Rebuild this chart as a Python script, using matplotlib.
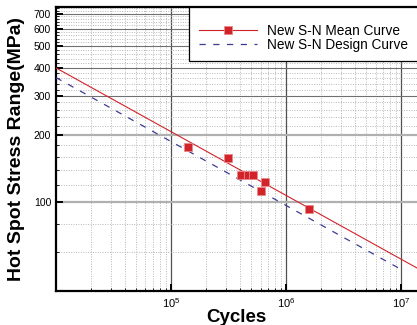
import matplotlib
matplotlib.use("Agg")
import matplotlib.pyplot as plt
from matplotlib.ticker import FixedLocator, NullFormatter, FixedFormatter

plt.rcParams["font.family"] = ["Liberation Sans", "DejaVu Sans"]
plt.rcParams["mathtext.fontset"] = "custom"
plt.rcParams["mathtext.rm"] = "Liberation Sans"
plt.rcParams["mathtext.it"] = "Liberation Sans"

# test points
test_cycles = [1.40e5, 3.1e5, 4.1e5, 4.7e5, 5.2e5, 6.6e5, 6.1e5, 1.58e6]
test_stress = [177, 158, 132, 133, 132, 123, 112, 93]

# S-N curves (straight lines in log-log space)
mean_cycles = [1e4, 1.5e7]
mean_stress = [400, 49.5]
design_cycles = [1e4, 1e7]
design_stress = [362, 50]

y_major = [100, 200, 300, 400, 500, 600, 700]
y_minor = [v for v in range(40, 760, 20) if v not in y_major]
x_major = [1e5, 1e6, 1e7]
x_minor = [m * 10 ** e for e in range(4, 8) for m in range(2, 10)]

RED = "#d2232a"
BLUE = "#3c3c96"

fig = plt.figure(figsize=(4.17, 3.25), dpi=100)
ax = fig.add_axes([56 / 417, 34 / 325, 361 / 417, 284 / 325])

ax.set_xscale("log")
ax.set_yscale("log")
ax.set_xlim(1e4, 1.377e7)
ax.set_ylim(40, 750)

ax.plot(mean_cycles, mean_stress, color=RED, lw=0.8, zorder=3)
ax.plot(design_cycles, design_stress, color=BLUE, lw=0.9,
        dashes=(5, 6), zorder=3)
ax.plot(test_cycles, test_stress, ls="none", marker="s", ms=6.2,
        mfc=RED, mec="#e88a8a", mew=0.6, zorder=4)

# legend proxies
h_mean, = ax.plot([], [], color=RED, lw=0.8, marker="s", ms=6.2,
                  mfc=RED, mec="#e88a8a", mew=0.6)
h_design, = ax.plot([], [], color=BLUE, lw=0.9, dashes=(5, 6))
leg_x0 = 133 / 361
leg = ax.legend([h_mean, h_design],
                ["New S-N Mean Curve", "New S-N Design Curve"],
                loc="upper left", bbox_to_anchor=(leg_x0, 0.0, 1.05 - leg_x0, 1.0),
                mode="expand", borderaxespad=0, fontsize=9.8, handlelength=4.3,
                handletextpad=0.75, labelspacing=0.0, borderpad=0.7,
                title=" ", title_fontsize=6,
                fancybox=False, framealpha=1, edgecolor="black")
leg.get_frame().set_linewidth(0.9)

ax.yaxis.set_major_locator(FixedLocator(y_major))
ax.yaxis.set_major_formatter(FixedFormatter([str(v) for v in y_major]))
ax.yaxis.set_minor_locator(FixedLocator(y_minor))
ax.yaxis.set_minor_formatter(NullFormatter())
ax.xaxis.set_major_locator(FixedLocator(x_major))
ax.xaxis.set_major_formatter(FixedFormatter([r"$10^{5}$", r"$10^{6}$", r"$10^{7}$"]))
ax.xaxis.set_minor_locator(FixedLocator(x_minor))
ax.xaxis.set_minor_formatter(NullFormatter())

ax.grid(which="major", axis="y", color="#707070", lw=0.8)
ax.grid(which="major", axis="x", color="#505050", lw=0.9)
ax.grid(which="minor", color="#b8b8b8", lw=0.7, ls=(0, (1, 1.5)))
ax.set_axisbelow(True)

ax.tick_params(which="major", direction="in", length=5, width=1.4,
               labelsize=7.5, colors="black", top=False, right=False)
ax.tick_params(which="minor", direction="in", length=2.5, width=0.6,
               top=False, right=False)
ax.tick_params(axis="x", which="major", pad=4, labelsize=8)

# 100 and 200 get the heavier light-grey grid line
fig.canvas.draw()
for val, line in zip(y_major, ax.yaxis.get_gridlines()):
    if val in (100, 200):
        line.set_color("#b0b0b0")
        line.set_linewidth(1.6)

for side in ["left", "bottom", "top"]:
    ax.spines[side].set_linewidth(1.6)
ax.spines["right"].set_visible(False)

ax.set_xlabel("Cycles", fontsize=13.5, fontweight="bold", labelpad=-1)
ax.set_ylabel("Hot Spot Stress Range(MPa)", fontsize=14, fontweight="bold",
              labelpad=6)

fig.savefig("out.png", dpi=100)
